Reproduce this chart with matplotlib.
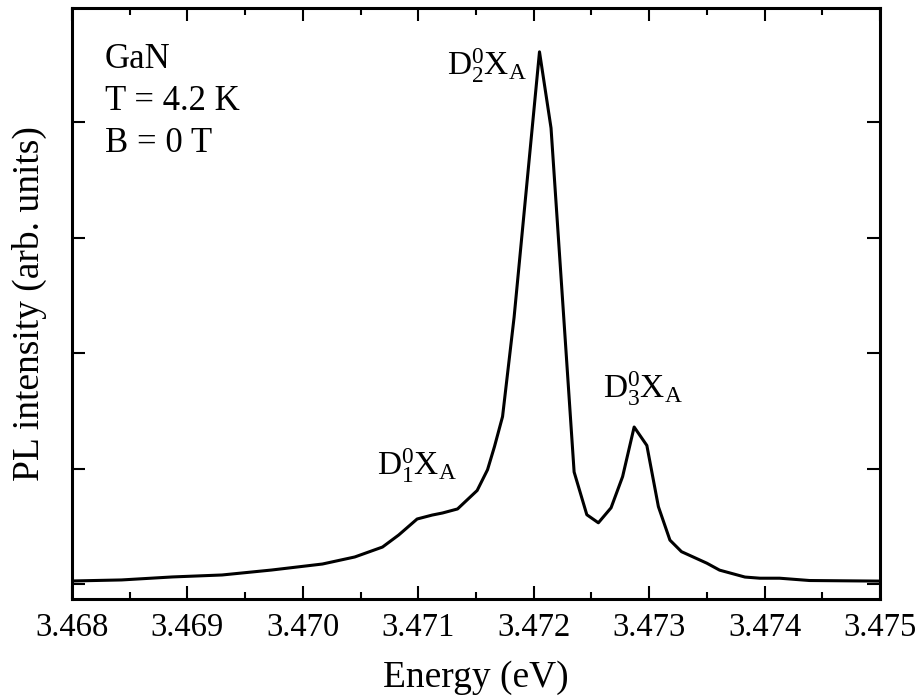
import numpy as np
import matplotlib
matplotlib.use("Agg")
import matplotlib.pyplot as plt
from matplotlib.ticker import MultipleLocator, FormatStrFormatter

plt.rcParams['font.family'] = ['Liberation Serif', 'DejaVu Serif']
plt.rcParams['mathtext.fontset'] = 'custom'
plt.rcParams['mathtext.rm'] = 'Liberation Serif'
plt.rcParams['mathtext.it'] = 'Liberation Serif:italic'

# PL spectrum of GaN
energy = [3.46800, 3.46843, 3.46887, 3.46930, 3.46973, 3.47017, 3.47045,
          3.47069, 3.47083, 3.47099, 3.47112, 3.47121, 3.47134, 3.47151,
          3.47160, 3.47166, 3.47173, 3.47183, 3.47205, 3.47215, 3.47235,
          3.47246, 3.47256, 3.47267, 3.47277, 3.47287, 3.47298, 3.47308,
          3.47318, 3.47328, 3.47350, 3.47361, 3.47383, 3.47396, 3.47413,
          3.47439, 3.47500]
intensity = [0.026, 0.035, 0.061, 0.078, 0.121, 0.173, 0.234,
             0.320, 0.424, 0.563, 0.597, 0.615, 0.65, 0.81,
             0.99, 1.19, 1.45, 2.31, 4.61, 3.95, 0.97,
             0.60, 0.53, 0.66, 0.93, 1.36, 1.20, 0.67,
             0.38, 0.28, 0.18, 0.12, 0.06, 0.05, 0.05,
             0.03, 0.025]

peak_labels = [r'D$_1^0$X$_\mathrm{A}$', r'D$_2^0$X$_\mathrm{A}$', r'D$_3^0$X$_\mathrm{A}$']
label_x = [3.47064, 3.47125, 3.47260]
label_y = [0.94, 4.41, 1.61]

info_lines = ['GaN', 'T = 4.2 K', 'B = 0 T']

fig = plt.figure(figsize=(9.19, 7.0), dpi=100)
ax = fig.add_axes([0.0783, 0.1443, 0.8793, 0.8443])

ax.plot(energy, intensity, color='black', linewidth=2.2)

ax.set_xlim(3.468, 3.475)
ax.set_ylim(-0.13, 4.99)
ax.xaxis.set_major_locator(MultipleLocator(0.001))
ax.xaxis.set_minor_locator(MultipleLocator(0.0005))
ax.xaxis.set_major_formatter(FormatStrFormatter('%.3f'))
ax.yaxis.set_major_locator(MultipleLocator(1))
ax.set_yticklabels([])

ax.tick_params(axis='both', which='major', direction='in', length=9.5, width=1.5,
               top=True, right=True, labelsize=23.5, pad=10)
ax.tick_params(axis='x', which='minor', direction='in', length=5, width=1.5, top=True)
for s in ax.spines.values():
    s.set_linewidth(2.2)

ax.set_xlabel('Energy (eV)', fontsize=27, labelpad=12)
ax.set_ylabel('PL intensity (arb. units)', fontsize=27, labelpad=8)

for txt, x, y in zip(peak_labels, label_x, label_y):
    ax.text(x, y, txt, fontsize=24, va='baseline', ha='left')

for i, line in enumerate(info_lines):
    ax.text(0.041, 0.898 - i * 0.0705, line, transform=ax.transAxes,
            fontsize=25, va='baseline', ha='left')

fig.savefig('out.png', dpi=100)
